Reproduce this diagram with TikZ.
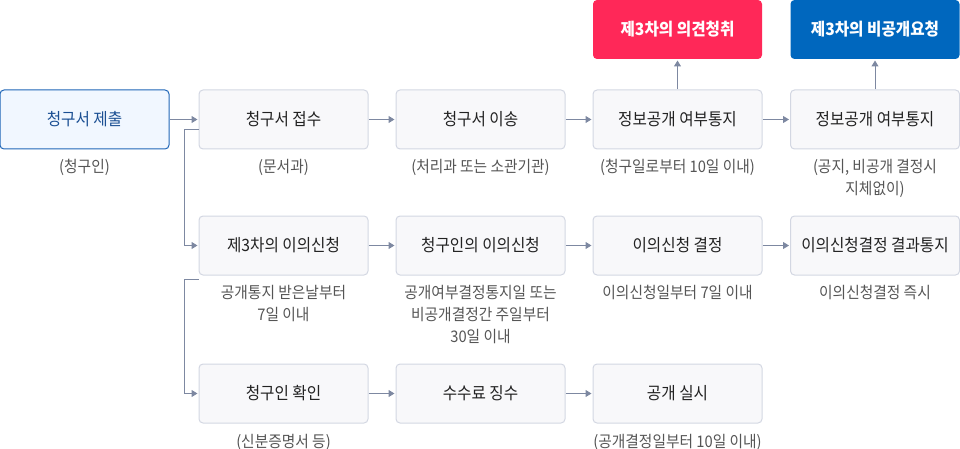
\documentclass[tikz,border=0pt]{standalone}
\usepackage{fontspec}
\setmainfont[FakeStretch=0.92]{Noto Sans CJK KR}
\usetikzlibrary{arrows.meta,calc}
\definecolor{boxline}{HTML}{D3D7E2}
\definecolor{boxfill}{HTML}{F8F8FA}
\definecolor{firstline}{HTML}{1F66B8}
\definecolor{firstfill}{HTML}{F1F7FF}
\definecolor{firsttext}{HTML}{1B4F93}
\definecolor{titlec}{HTML}{222222}
\definecolor{subc}{HTML}{555555}
\definecolor{arrowc}{HTML}{7D88A1}
\definecolor{redbox}{HTML}{FF2858}
\definecolor{bluebox}{HTML}{0067BE}
\begin{document}
\begin{tikzpicture}[x=1pt,y=-1pt,
  box/.style={draw=boxline, fill=boxfill, rounded corners=4pt, minimum width=169pt, minimum height=59pt, inner sep=0pt, font=\fontsize{17}{20}\selectfont, text=titlec, line width=1pt},
  firstbox/.style={box, draw=firstline, fill=firstfill, text=firsttext},
  topbox/.style={box, draw=none, font=\fontsize{17}{20}\selectfont\bfseries, text=white},
  sub/.style={anchor=north, inner sep=0pt, align=center, font=\fontsize{16}{22}\selectfont, text=subc},
  arr/.style={draw=arrowc, line width=1pt, -{Triangle[length=6pt,width=7pt]}, shorten >=1pt},
  ln/.style={draw=arrowc, line width=1pt}]
\useasboundingbox (0,0) rectangle (960,449);
% row 1
\node[firstbox] (b1) at (84.5,119.5) {청구서 제출};
\node[box] (b2) at (283.5,119.5) {청구서 접수};
\node[box] (b3) at (480.5,119.5) {청구서 이송};
\node[box] (b4) at (677.5,119.5) {정보공개 여부통지};
\node[box] (b5) at (875,119.5) {정보공개 여부통지};
% top
\node[topbox, fill=redbox] (t1) at (677.5,29.5) {제3차의 의견청취};
\node[topbox, fill=bluebox] (t2) at (875,29.5) {제3차의 비공개요청};
% row 2
\node[box] (c1) at (283.5,245.5) {제3차의 이의신청};
\node[box] (c2) at (480.5,245.5) {청구인의 이의신청};
\node[box] (c3) at (677.5,245.5) {이의신청 결정};
\node[box] (c4) at (875,245.5) {이의신청결정 결과통지};
% row 3
\node[box] (d1) at (283.5,393.5) {청구인 확인};
\node[box] (d2) at (480.5,393.5) {수수료 징수};
\node[box] (d3) at (677.5,393.5) {공개 실시};
% sublabels
\node[sub] (s1) at (84.5,159) {(청구인)};
\node[sub] (s2) at (283.5,159) {(문서과)};
\node[sub] (s3) at (480.5,159) {(처리과 또는 소관기관)};
\node[sub] (s4) at (677.5,159) {(청구일로부터 10일 이내)};
\node[sub] (s5) at (875,159) {(공지, 비공개 결정시\\지체없이)};
\node[sub] (s6) at (283.5,285) {공개통지 받은날부터\\7일 이내};
\node[sub] (s7) at (480.5,285) {공개여부결정통지일 또는\\비공개결정간 주일부터\\30일 이내};
\node[sub] (s8) at (677.5,285) {이의신청일부터 7일 이내};
\node[sub] (s9) at (875,285) {이의신청결정 즉시};
\node[sub] (s10) at (283.5,434) {(신분증명서 등)};
\node[sub] (s11) at (677.5,434) {(공개결정일부터 10일 이내)};
% connectors
\coordinate (j1) at (184,130);
\coordinate (j2) at (184,279);
\draw[arr] (b1.east) -- (b2.west);
\draw[arr] (b2.west |- j1) -- (j1) |- (c1.west);
\draw[arr] (j2 -| c1.west) -- (j2) |- (d1.west);
\draw[arr] (b2) -- (b3);
\draw[arr] (b3) -- (b4);
\draw[arr] (b4) -- (b5);
\draw[arr] (b4) -- (t1);
\draw[arr] (b5) -- (t2);
\draw[arr] (c1) -- (c2);
\draw[arr] (c2) -- (c3);
\draw[arr] (c3) -- (c4);
\draw[arr] (d1) -- (d2);
\draw[arr] (d2) -- (d3);
\end{tikzpicture}
\end{document}
